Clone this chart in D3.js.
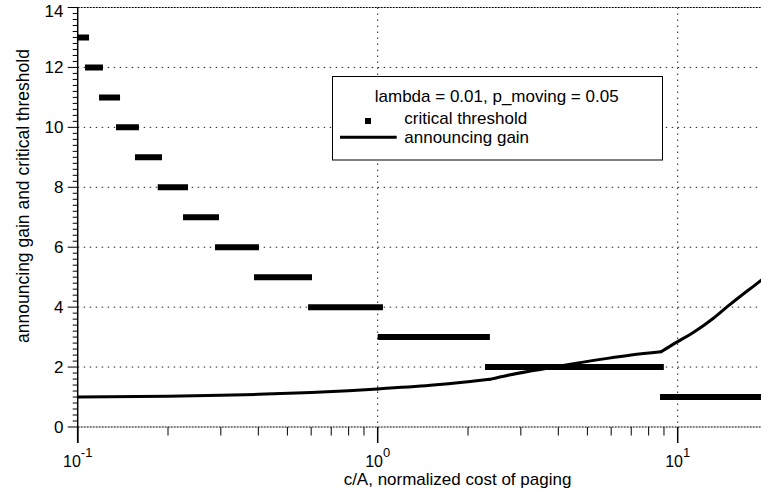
<!DOCTYPE html>
<html>
<head>
<meta charset="utf-8">
<script src="https://cdn.jsdelivr.net/npm/d3@7"></script>
<style>
  html, body { margin: 0; padding: 0; background: #fff; }
  svg { display: block; font-family: "Liberation Sans", Arial, Helvetica, sans-serif; }
</style>
</head>
<body>
<svg id="chart" width="761" height="494"></svg>
<script>
// ---- data ----
const thresholdValues = [13, 12, 11, 10, 9, 8, 7, 6, 5, 4, 3, 2, 1];
const thresholdStart  = [0.100, 0.1058, 0.1178, 0.1342, 0.1552, 0.1848, 0.2244, 0.2869, 0.387, 0.586, 1.00, 2.279, 8.73];
const thresholdEnd    = [0.1091, 0.1214, 0.1384, 0.160, 0.191, 0.2332, 0.2958, 0.402, 0.604, 1.041, 2.366, 8.99, 20];

const gainX = [0.1, 0.2, 0.3, 0.4, 0.6, 0.8, 1.0, 1.5, 2.0, 2.36, 2.7, 3.2, 3.89, 4.6, 5.83, 7.0, 8.8, 10, 11.0, 12.2, 13.15, 14.56, 16.3, 18.0, 20];
const gainY = [1.0, 1.03, 1.06, 1.09, 1.15, 1.21, 1.27, 1.39, 1.51, 1.59, 1.72, 1.86, 2.0, 2.13, 2.29, 2.40, 2.51, 2.85, 3.09, 3.39, 3.63, 4.0, 4.39, 4.72, 5.08];
const gainBreaks = [1.0, 2.36, 8.8];   // c/A values where the gain curve has a kink

const yTicks = [0, 2, 4, 6, 8, 10, 12, 14];
const xMajorTicks = [0.1, 1, 10];
const xTickExponents = ["-1", "0", "1"];
const legendTitle = "lambda = 0.01, p_moving = 0.05";
const legendLabels = ["critical threshold", "announcing gain"];

// ---- layout ----
const svg = d3.select("#chart");
const x0 = 77.7, decade = 300;
const x = d3.scaleLog().domain([0.1, 20]).range([x0, x0 + decade * Math.log10(200)]);
const y = d3.scaleLinear().domain([0, 14]).range([427, 7.5]);
const xRight = 761;

// grid lines
const grid = svg.append("g");
yTicks.filter(v => v > 0 && v < 14).forEach(v => {
  grid.append("line").attr("x1", x0).attr("x2", xRight).attr("y1", y(v)).attr("y2", y(v))
    .attr("stroke", "#222").attr("stroke-width", 1).attr("stroke-dasharray", "1.5,4.5");
});
[1, 10].forEach(v => {
  grid.append("line").attr("x1", x(v)).attr("x2", x(v)).attr("y1", y(14)).attr("y2", y(0))
    .attr("stroke", "#222").attr("stroke-width", 1).attr("stroke-dasharray", "1.5,4.5");
});
// top and bottom frame lines (dense dashes)
[14, 0].forEach(v => {
  grid.append("line").attr("x1", x0).attr("x2", xRight).attr("y1", y(v)).attr("y2", y(v))
    .attr("stroke", "#000").attr("stroke-width", 1).attr("stroke-dasharray", "2,1");
});

// y axis
const yAxis = svg.append("g");
yAxis.append("line").attr("x1", x0).attr("x2", x0).attr("y1", y(14)).attr("y2", y(0) + 16)
  .attr("stroke", "#000").attr("stroke-width", 1.5);
d3.range(0, 14.01, 0.2).forEach(v => {
  const major = Math.abs(v / 2 - Math.round(v / 2)) < 1e-6;
  yAxis.append("line").attr("x1", x0 - (major ? 10 : 5)).attr("x2", x0)
    .attr("y1", y(v)).attr("y2", y(v)).attr("stroke", "#000").attr("stroke-width", 1);
});
yTicks.forEach(v => {
  yAxis.append("text").attr("x", 63.5).attr("y", Math.max(y(v), 11)).attr("text-anchor", "end")
    .attr("dominant-baseline", "central").attr("font-size", 17).text(v);
});

// x axis ticks
const xAxis = svg.append("g");
const minor = [];
[0.1, 1, 10].forEach(d => { for (let k = 2; k <= 9; k++) minor.push(d * k); });
minor.filter(v => v <= 20).forEach(v => {
  xAxis.append("line").attr("x1", x(v)).attr("x2", x(v)).attr("y1", y(0)).attr("y2", y(0) + 8.5)
    .attr("stroke", "#000").attr("stroke-width", 1);
});
xMajorTicks.forEach((v, i) => {
  xAxis.append("line").attr("x1", x(v)).attr("x2", x(v)).attr("y1", y(0)).attr("y2", y(0) + 16)
    .attr("stroke", "#000").attr("stroke-width", 1.5);
  const t = xAxis.append("text").attr("x", x(v)).attr("y", 466.7).attr("text-anchor", "middle")
    .attr("font-size", 16);
  t.append("tspan").text("10");
  t.append("tspan").attr("font-size", 13).attr("dy", -10).text(xTickExponents[i]);
});

// axis titles
svg.append("text").attr("x", 457.5).attr("y", 485).attr("text-anchor", "middle")
  .attr("font-size", 17).text("c/A, normalized cost of paging");
svg.append("text").attr("transform", "translate(29,196) rotate(-90)").attr("text-anchor", "middle")
  .attr("font-size", 17.5).text("announcing gain and critical threshold");

// clip
svg.append("clipPath").attr("id", "plotclip").append("rect")
  .attr("x", x0).attr("y", 0).attr("width", xRight - x0).attr("height", y(0) + 4);
const plot = svg.append("g").attr("clip-path", "url(#plotclip)");

// critical threshold bars
plot.selectAll("line.th").data(thresholdValues).enter().append("line").attr("class", "th")
  .attr("x1", (d, i) => x(thresholdStart[i])).attr("x2", (d, i) => x(thresholdEnd[i]))
  .attr("y1", d => y(d)).attr("y2", d => y(d))
  .attr("stroke", "#000").attr("stroke-width", 6);

// announcing gain line: smooth within each region, sharp kinks at the breaks
const gainData = gainX.map((v, i) => [v, gainY[i]]);
const bounds = [gainX[0], ...gainBreaks, gainX[gainX.length - 1]];
const lineGen = d3.line().x(d => x(d[0])).y(d => y(d[1])).curve(d3.curveMonotoneX);
for (let k = 0; k < bounds.length - 1; k++) {
  const seg = gainData.filter(d => d[0] >= bounds[k] - 1e-9 && d[0] <= bounds[k + 1] + 1e-9);
  plot.append("path").datum(seg).attr("d", lineGen)
    .attr("fill", "none").attr("stroke", "#000").attr("stroke-width", 3)
    .attr("stroke-linejoin", "round").attr("stroke-linecap", "round");
}

// legend
const lg = svg.append("g");
lg.append("rect").attr("x", 332.5).attr("y", 76.5).attr("width", 330).attr("height", 83.5)
  .attr("fill", "#fff").attr("stroke", "#000").attr("stroke-width", 1);
lg.append("text").attr("x", 496.7).attr("y", 101.7).attr("text-anchor", "middle")
  .attr("font-size", 17).text(legendTitle);
lg.append("rect").attr("x", 365).attr("y", 118).attr("width", 6).attr("height", 6).attr("fill", "#000");
lg.append("line").attr("x1", 340).attr("x2", 396.7).attr("y1", 137.3).attr("y2", 137.3)
  .attr("stroke", "#000").attr("stroke-width", 3);
lg.append("text").attr("x", 404.3).attr("y", 124.3).attr("font-size", 17).text(legendLabels[0]);
lg.append("text").attr("x", 404.3).attr("y", 142.7).attr("font-size", 17).text(legendLabels[1]);
</script>
</body>
</html>
